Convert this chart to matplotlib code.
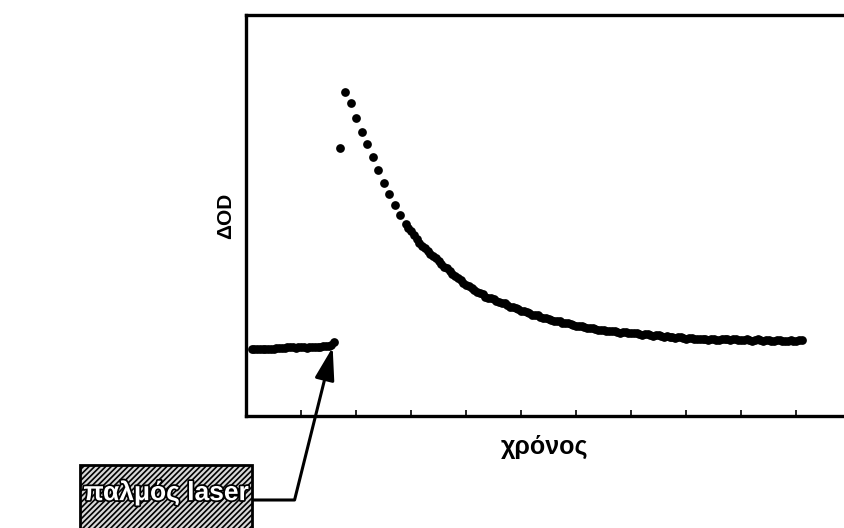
import matplotlib
matplotlib.use('Agg')
import matplotlib.pyplot as plt
import matplotlib.patheffects as pe
from matplotlib.patches import Rectangle

plt.rcParams['font.family'] = ['Liberation Sans', 'DejaVu Sans']
plt.rcParams['hatch.linewidth'] = 1.2

# --- datos (tiempo en divisiones, DeltaOD arbitrario 0-100) ---
# linea base antes del pulso
t_base = [0.1, 0.15, 0.2, 0.25, 0.3, 0.35, 0.4, 0.45, 0.5, 0.55, 0.6, 0.65, 0.7, 0.75,
          0.8, 0.85, 0.9, 0.95, 1.0, 1.05, 1.1, 1.15, 1.2, 1.25, 1.3, 1.35, 1.4, 1.45,
          1.5, 1.55, 1.6]
od_base = [16.6, 16.7, 16.8, 16.7, 16.6, 16.7, 16.8, 16.8, 16.7, 16.9, 17.0, 17.0, 16.9, 17.1,
           17.2, 17.1, 17.0, 17.1, 17.2, 17.1, 17.0, 17.1, 17.2, 17.2, 17.1, 17.3, 17.4, 17.4,
           17.4, 17.6, 18.5]

# subida y primera parte del decaimiento (puntos separados)
t_decay = [1.7, 1.8, 1.9, 2.0, 2.1, 2.2, 2.3, 2.4, 2.5, 2.6, 2.7, 2.8]
od_decay = [66.8, 80.9, 78.0, 74.2, 70.9, 67.8, 64.7, 61.4, 58.0, 55.4, 52.6, 50.1]

# cola del decaimiento (banda continua)
t_cola = [2.9, 2.95, 3.0, 3.05, 3.1, 3.15, 3.2, 3.25, 3.3, 3.35, 3.4, 3.45, 3.5, 3.55,
          3.6, 3.65, 3.7, 3.75, 3.8, 3.85, 3.9, 3.95, 4.0, 4.05, 4.1, 4.15, 4.2, 4.25,
          4.3, 4.35, 4.4, 4.45, 4.5, 4.55, 4.6, 4.65, 4.7, 4.75, 4.8, 4.85, 4.9, 4.95,
          5.0, 5.05, 5.1, 5.15, 5.2, 5.25, 5.3, 5.35, 5.4, 5.45, 5.5, 5.55, 5.6, 5.65,
          5.7, 5.75, 5.8, 5.85, 5.9, 5.95, 6.0, 6.05, 6.1, 6.15, 6.2, 6.25, 6.3, 6.35,
          6.4, 6.45, 6.5, 6.55, 6.6, 6.65, 6.7, 6.75, 6.8, 6.85, 6.9, 6.95, 7.0, 7.05,
          7.1, 7.15, 7.2, 7.25, 7.3, 7.35, 7.4, 7.45, 7.5, 7.55, 7.6, 7.65, 7.7, 7.75,
          7.8, 7.85, 7.9, 7.95, 8.0, 8.05, 8.1, 8.15, 8.2, 8.25, 8.3, 8.35, 8.4, 8.45,
          8.5, 8.55, 8.6, 8.65, 8.7, 8.75, 8.8, 8.85, 8.9, 8.95, 9.0, 9.05, 9.1, 9.15,
          9.2, 9.25, 9.3, 9.35, 9.4, 9.45, 9.5, 9.55, 9.6, 9.65, 9.7, 9.75, 9.8, 9.85,
          9.9, 9.95, 10.0, 10.05, 10.1]
od_cola = [48.0, 47.0, 46.1, 45.2, 44.2, 43.2, 42.4, 41.9, 41.2, 40.4, 39.8, 39.3, 38.6, 37.8,
           37.2, 36.8, 36.2, 35.4, 34.8, 34.4, 33.8, 33.1, 32.6, 32.3, 31.9, 31.3, 30.9, 30.7,
           30.3, 29.8, 29.5, 29.4, 29.1, 28.7, 28.4, 28.3, 28.1, 27.6, 27.3, 27.2, 27.0, 26.6,
           26.3, 26.2, 26.0, 25.6, 25.3, 25.3, 25.1, 24.7, 24.5, 24.5, 24.3, 23.9, 23.7, 23.7,
           23.6, 23.3, 23.1, 23.1, 23.0, 22.7, 22.5, 22.5, 22.4, 22.1, 21.9, 22.0, 21.9, 21.6,
           21.4, 21.5, 21.4, 21.2, 21.1, 21.2, 21.1, 20.9, 20.8, 20.9, 20.9, 20.7, 20.6, 20.7,
           20.6, 20.4, 20.3, 20.4, 20.4, 20.2, 20.0, 20.1, 20.1, 19.9, 19.8, 19.9, 19.8, 19.6,
           19.5, 19.6, 19.6, 19.4, 19.3, 19.4, 19.4, 19.2, 19.1, 19.2, 19.3, 19.1, 19.0, 19.1,
           19.2, 19.0, 19.0, 19.1, 19.3, 19.1, 19.0, 19.1, 19.2, 19.0, 18.9, 19.0, 19.1, 18.9,
           18.8, 18.9, 19.1, 18.9, 18.8, 18.9, 19.0, 18.8, 18.8, 18.9, 19.0, 18.8, 18.7, 18.8,
           18.9, 18.8, 18.8, 18.9, 19.0]

x_ticks = [1, 2, 3, 4, 5, 6, 7, 8, 9, 10]
t_pulso, od_pulso = t_base[-1], od_base[-1]

fig = plt.figure(figsize=(8.44, 5.28), dpi=100)
ax = fig.add_axes([246 / 844, 112 / 528, 1 - 246 / 844, 401 / 528])

for t, od in [(t_base, od_base), (t_decay, od_decay), (t_cola, od_cola)]:
    ax.plot(t, od, 'o', color='black', markersize=6.3, markeredgewidth=0)

ax.set_xlim(0, 598 / 55)
ax.set_ylim(0, 100)
ax.set_xticks(x_ticks)
ax.set_xticklabels([])
ax.set_yticks([])
ax.tick_params(axis='x', direction='in', length=4, width=1.2, colors='black')
for lado in ['left', 'bottom', 'top']:
    ax.spines[lado].set_linewidth(2.4)
ax.spines['right'].set_visible(False)

ax.set_ylabel('ΔOD', fontsize=15, fontweight='bold', labelpad=8)
ax.set_xlabel('χρόνος', fontsize=18, fontweight='bold', labelpad=10)

# caja "pulso laser" con rayado
caja = Rectangle((80, -10), 172, 73, transform=None, facecolor='#d8d8d8',
                 edgecolor='black', hatch='//////', linewidth=2, clip_on=False)
fig.add_artist(caja)
fig.text(166 / 844, 35 / 528, 'παλμός laser', fontsize=19, fontweight='bold',
         color='white', ha='center', va='center',
         path_effects=[pe.withStroke(linewidth=2.5, foreground='black')])

ax.annotate('', xy=(t_pulso, od_pulso), xycoords='data',
            xytext=(252, 28), textcoords='figure pixels',
            arrowprops=dict(arrowstyle='-|>,head_length=1.0,head_width=0.3',
                            mutation_scale=20, color='black', lw=2.2,
                            shrinkA=0, shrinkB=4,
                            connectionstyle='angle,angleA=0,angleB=76,rad=0'),
            annotation_clip=False)

fig.savefig('out.png', dpi=100)
plt.close(fig)
